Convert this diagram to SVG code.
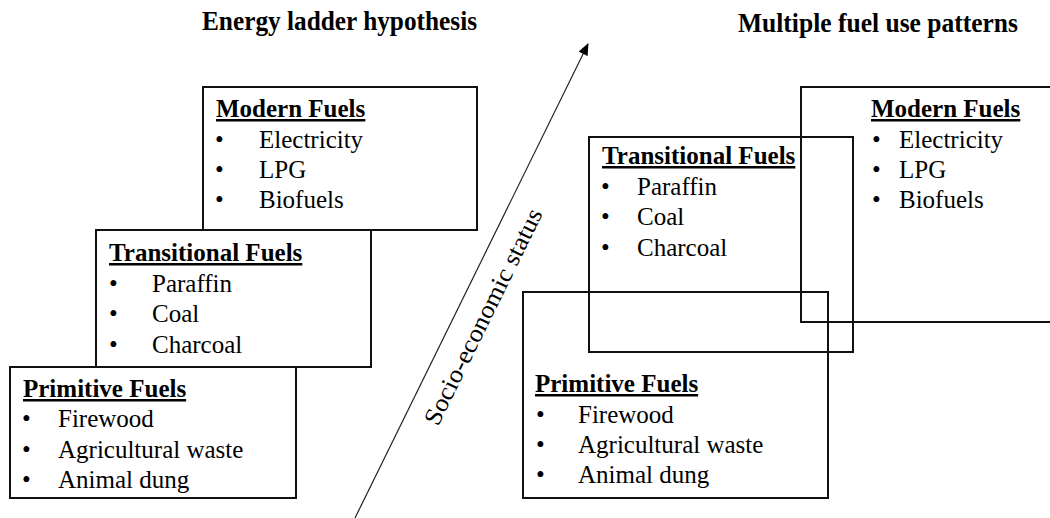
<svg xmlns="http://www.w3.org/2000/svg" width="1050" height="518" viewBox="0 0 1050 518">
<style>
text{font-family:"Liberation Serif","Times New Roman",serif;fill:#000}
.t{font-size:28px;font-weight:bold}
.h{font-size:25px;font-weight:bold;text-decoration:underline}
.i{font-size:25px}
.box{fill:none;stroke:#111;stroke-width:2}
.wbox{fill:#fff;stroke:#111;stroke-width:2}
</style>
<defs>
<marker id="ah" markerWidth="12" markerHeight="10" refX="11" refY="5" orient="auto" markerUnits="userSpaceOnUse">
<path d="M0,0 L12,5 L0,10 Z" fill="#000"/>
</marker>
</defs>
<rect width="1050" height="518" fill="#fff"/>
<text class="t" x="202" y="30" textLength="275" lengthAdjust="spacingAndGlyphs">Energy ladder hypothesis</text>
<text class="t" x="738" y="32" textLength="280" lengthAdjust="spacingAndGlyphs">Multiple fuel use patterns</text>
<g id="connectors">
<line x1="355" y1="518" x2="588" y2="44" stroke="#222" stroke-width="1.2" marker-end="url(#ah)"/>
<text class="i" transform="translate(438,427) rotate(-63.8)" textLength="238" lengthAdjust="spacingAndGlyphs">Socio-economic status</text>
</g>
<g id="left-modern">
<rect class="wbox" x="203" y="87" width="274" height="143"/>
<text class="h" x="216" y="117">Modern Fuels</text>
<text class="i" x="215" y="148">•</text><text class="i" x="259" y="148">Electricity</text>
<text class="i" x="215" y="178">•</text><text class="i" x="259" y="178">LPG</text>
<text class="i" x="215" y="208">•</text><text class="i" x="259" y="208">Biofuels</text>
</g>
<g id="left-transitional">
<rect class="wbox" x="96" y="230" width="275" height="137"/>
<text class="h" x="109" y="261">Transitional Fuels</text>
<text class="i" x="109" y="292">•</text><text class="i" x="152" y="292">Paraffin</text>
<text class="i" x="109" y="322">•</text><text class="i" x="152" y="322">Coal</text>
<text class="i" x="109" y="353">•</text><text class="i" x="152" y="353">Charcoal</text>
</g>
<g id="left-primitive">
<rect class="wbox" x="10" y="367" width="286" height="131"/>
<text class="h" x="23" y="397">Primitive Fuels</text>
<text class="i" x="22" y="427">•</text><text class="i" x="58" y="427">Firewood</text>
<text class="i" x="22" y="458">•</text><text class="i" x="58" y="458">Agricultural waste</text>
<text class="i" x="22" y="488">•</text><text class="i" x="58" y="488">Animal dung</text>
</g>
<g id="right-modern">
<rect class="box" x="801" y="87" width="260" height="235"/>
<text class="h" x="871" y="117">Modern Fuels</text>
<text class="i" x="872" y="148">•</text><text class="i" x="899" y="148">Electricity</text>
<text class="i" x="872" y="178">•</text><text class="i" x="899" y="178">LPG</text>
<text class="i" x="872" y="208">•</text><text class="i" x="899" y="208">Biofuels</text>
</g>
<g id="right-transitional">
<rect class="box" x="589" y="137" width="264" height="215"/>
<text class="h" x="602" y="164">Transitional Fuels</text>
<text class="i" x="601" y="195">•</text><text class="i" x="637" y="195">Paraffin</text>
<text class="i" x="601" y="225">•</text><text class="i" x="637" y="225">Coal</text>
<text class="i" x="601" y="256">•</text><text class="i" x="637" y="256">Charcoal</text>
</g>
<g id="right-primitive">
<rect class="box" x="523" y="292" width="305" height="206"/>
<text class="h" x="535" y="392">Primitive Fuels</text>
<text class="i" x="536" y="423">•</text><text class="i" x="578" y="423">Firewood</text>
<text class="i" x="536" y="453">•</text><text class="i" x="578" y="453">Agricultural waste</text>
<text class="i" x="536" y="483">•</text><text class="i" x="578" y="483">Animal dung</text>
</g>
</svg>
